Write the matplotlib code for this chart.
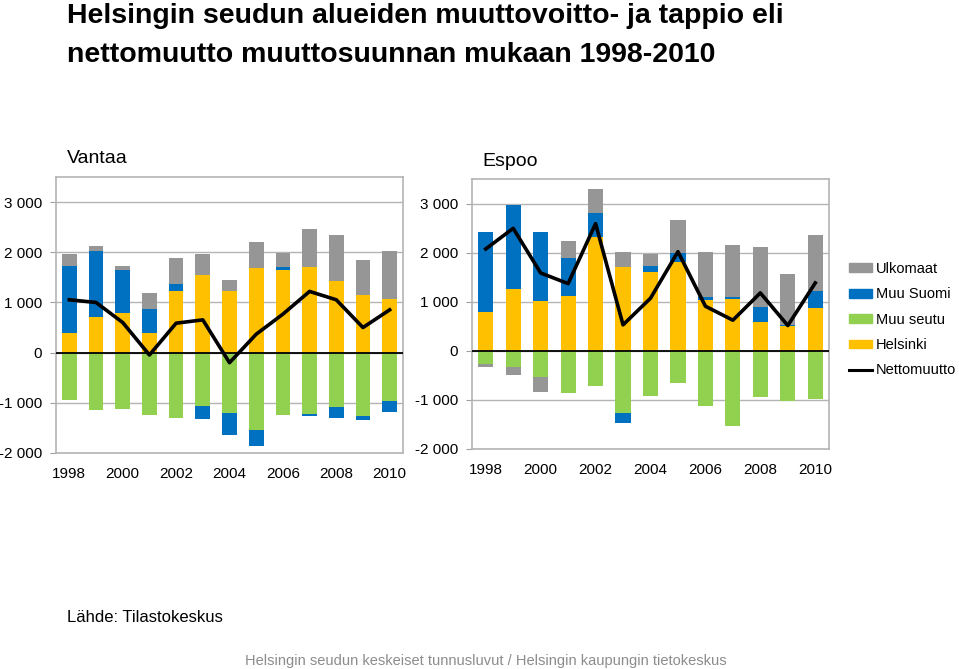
import matplotlib.pyplot as plt
import numpy as np
from matplotlib.patches import Patch
from matplotlib.lines import Line2D

plt.rcParams["font.family"] = ["Liberation Sans", "DejaVu Sans"]

years = list(range(1998, 2011))
series_names = ["Helsinki", "Muu seutu", "Muu Suomi", "Ulkomaat"]
colors = {"Helsinki": "#FFC000", "Muu seutu": "#92D050",
          "Muu Suomi": "#0070C0", "Ulkomaat": "#969696"}

# Vantaa
vantaa_helsinki = [387, 713, 787, 387, 1227, 1540, 1233, 1687, 1653, 1707, 1427, 1140, 1073]
vantaa_muu_seutu = [-947, -1147, -1127, -1240, -1307, -1067, -1200, -1533, -1240, -1213, -1080, -1253, -973]
vantaa_muu_suomi = [1333, 1320, 866, 480, 140, -253, -440, -333, 47, -40, -227, -93, -213]
vantaa_ulkomaat = [247, 100, 80, 320, 513, 420, 207, 513, 287, 747, 920, 700, 953]
vantaa_netto = [1053, 1000, 600, -47, 587, 653, -200, 367, 767, 1220, 1053, 500, 853]

# Espoo
espoo_helsinki = [793, 1261, 1010, 1125, 2319, 1702, 1600, 1803, 1044, 1058, 590, 502, 881]
espoo_muu_seutu = [-278, -325, -529, -861, -725, -1275, -929, -658, -1125, -1525, -942, -1024, -990]
espoo_muu_suomi = [1621, 1702, 1417, 760, 481, -203, 122, 190, 61, 47, 305, 27, 346]
espoo_ulkomaat = [-61, -163, -312, 359, 495, 305, 244, 678, 902, 1058, 1220, 1030, 1132]
espoo_netto = [2075, 2495, 1586, 1369, 2590, 529, 1071, 2020, 908, 624, 1180, 515, 1383]


def fmt(v):
    s = f"{abs(int(v)):,}".replace(",", " ")
    return ("-" if v < 0 else "") + s


def draw_panel(ax, title, data, netto):
    x = np.arange(len(years))
    pos_base = np.zeros(len(years))
    neg_base = np.zeros(len(years))
    # positives and negatives stack separately, like Excel does
    for name in series_names:
        vals = np.array(data[name], dtype=float)
        pos = np.where(vals > 0, vals, 0)
        neg = np.where(vals < 0, vals, 0)
        ax.bar(x, pos, 0.55, bottom=pos_base, color=colors[name], zorder=3)
        ax.bar(x, neg, 0.55, bottom=neg_base, color=colors[name], zorder=3)
        pos_base += pos
        neg_base += neg
    ax.plot(x, netto, color="black", lw=2.6, zorder=5)
    ax.axhline(0, color="black", lw=1.3, zorder=4)

    ax.set_xlim(-0.5, len(years) - 0.5)
    ax.set_ylim(-2000, 3500)
    yt = [-2000, -1000, 0, 1000, 2000, 3000]
    ax.set_yticks(yt)
    ax.set_yticklabels([fmt(v) for v in yt], fontsize=11)
    ax.set_xticks(x[::2])
    ax.set_xticklabels([str(y) for y in years[::2]], fontsize=11)
    ax.tick_params(axis="x", length=0, pad=10)
    ax.tick_params(axis="y", length=4, color="#a0a0a0", pad=6)
    ax.grid(axis="y", color="#b4b4b4", lw=1, zorder=0)
    for sp in ax.spines.values():
        sp.set_color("#b4b4b4")
        sp.set_linewidth(1.2)
    ax.text(0.03, 1.035, title, transform=ax.transAxes, fontsize=14,
            ha="left", va="bottom")


fig = plt.figure(figsize=(9.59, 6.69), dpi=100)

fig.text(67 / 959, 1 - 23 / 669, "Helsingin seudun alueiden muuttovoitto- ja tappio eli",
         fontsize=20.5, fontweight="bold", ha="left", va="baseline")
fig.text(67 / 959, 1 - 62 / 669, "nettomuutto muuttosuunnan mukaan 1998-2010",
         fontsize=20.5, fontweight="bold", ha="left", va="baseline")

ax1 = fig.add_axes([56 / 959, 1 - 453 / 669, 347 / 959, 276 / 669])
draw_panel(ax1, "Vantaa",
           {"Helsinki": vantaa_helsinki, "Muu seutu": vantaa_muu_seutu,
            "Muu Suomi": vantaa_muu_suomi, "Ulkomaat": vantaa_ulkomaat},
           vantaa_netto)

ax2 = fig.add_axes([472 / 959, 1 - 449 / 669, 357 / 959, 270 / 669])
draw_panel(ax2, "Espoo",
           {"Helsinki": espoo_helsinki, "Muu seutu": espoo_muu_seutu,
            "Muu Suomi": espoo_muu_suomi, "Ulkomaat": espoo_ulkomaat},
           espoo_netto)

# legend
handles = [Patch(color=colors["Ulkomaat"]), Patch(color=colors["Muu Suomi"]),
           Patch(color=colors["Muu seutu"]), Patch(color=colors["Helsinki"]),
           Line2D([0], [0], color="black", lw=2.2)]
labels = ["Ulkomaat", "Muu Suomi", "Muu seutu", "Helsinki", "Nettomuutto"]
fig.legend(handles, labels, loc="upper left", bbox_to_anchor=(849 / 959, 1 - 262 / 669),
           frameon=False, fontsize=10.5, handlelength=1.6, handleheight=0.55,
           handletextpad=0.25, labelspacing=0.78, borderpad=0, borderaxespad=0)

fig.text(67 / 959, 1 - 617 / 669, "Lähde: Tilastokeskus", fontsize=12,
         ha="left", va="center")
fig.text(486 / 959, 1 - 661 / 669,
         "Helsingin seudun keskeiset tunnusluvut / Helsingin kaupungin tietokeskus",
         fontsize=10.5, color="#8c8c8c", ha="center", va="center",
         family=["Liberation Sans Narrow", "Liberation Sans", "DejaVu Sans"])

fig.savefig("out.png", dpi=100)
